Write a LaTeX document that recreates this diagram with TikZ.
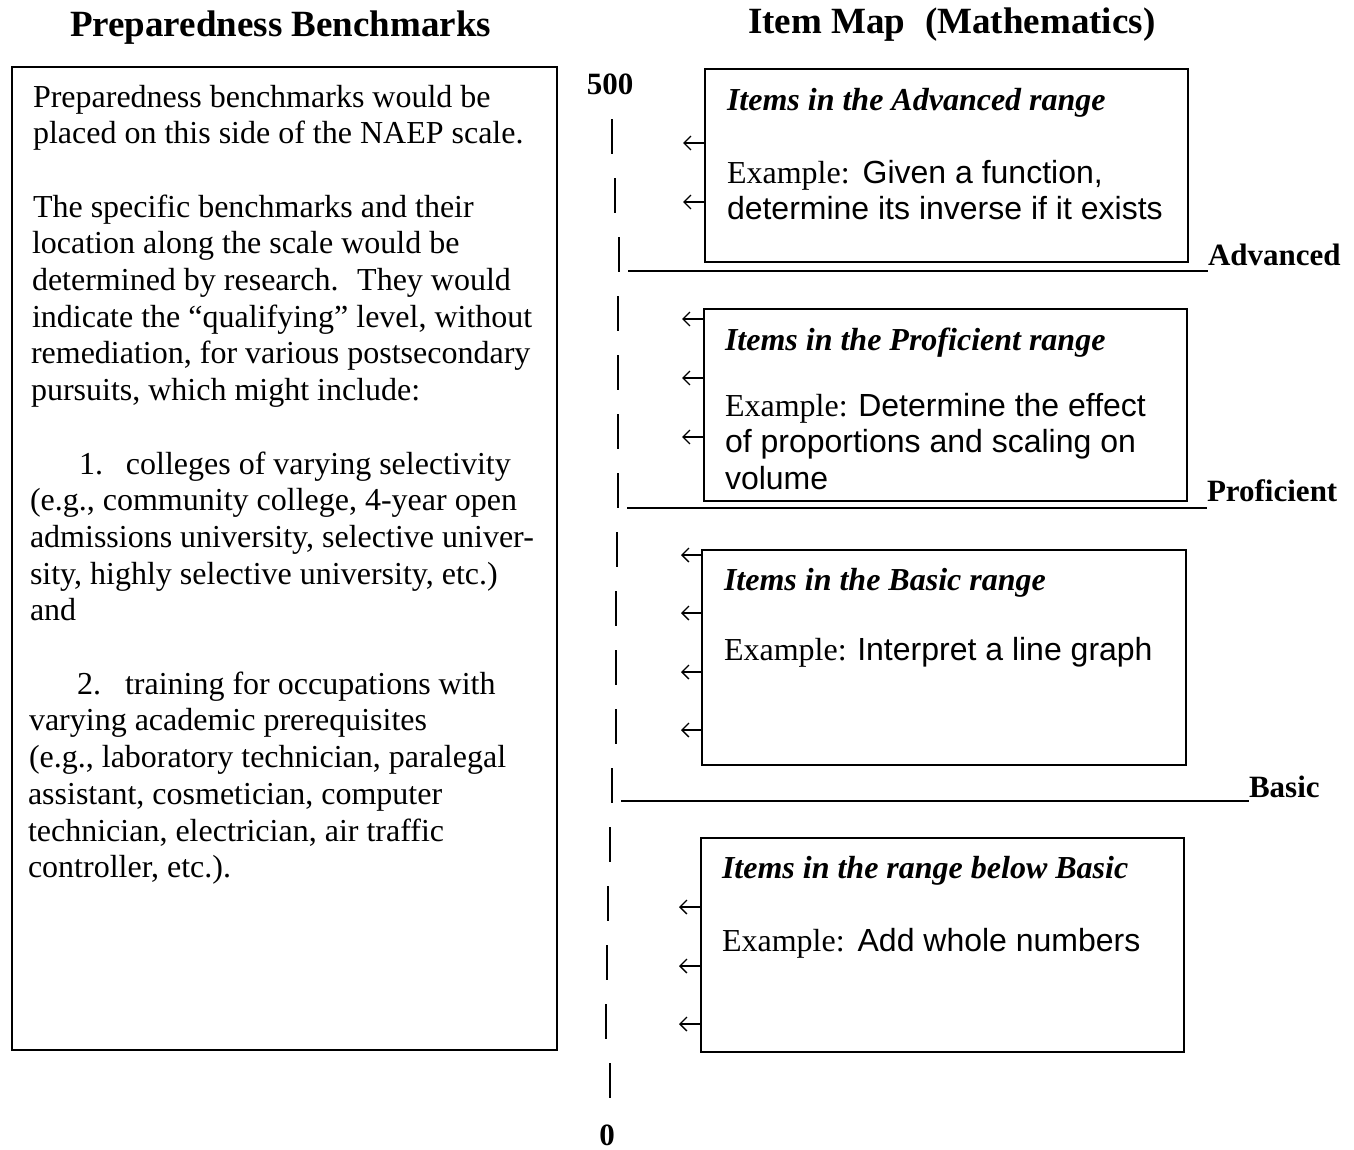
\documentclass[tikz,border=0pt]{standalone}
\usepackage{fontspec}
\setmainfont{Liberation Serif}
\newfontfamily\arialf{Liberation Sans}
\usetikzlibrary{arrows.meta}
\begin{document}
\begin{tikzpicture}[x=1pt,y=-1pt,
  every node/.style={inner sep=0pt, outer sep=0pt},
  ttl/.style={anchor=base west, font=\fontsize{37}{40}\selectfont\bfseries},
  ltxt/.style={anchor=base west, font=\fontsize{32}{36}\selectfont},
  btitle/.style={anchor=base west, font=\fontsize{32}{36}\selectfont\bfseries\itshape},
  lvl/.style={anchor=base west, font=\fontsize{31}{35}\selectfont\bfseries},
  ibox/.style={draw, line width=1.4pt, anchor=north west},
  levelline/.style={line width=2.4pt},
  itemarrow/.style={line width=1.3pt, -{Straight Barb[length=7pt,width=14pt,line width=1.3pt]}},
  axisdash/.style={line width=1.5pt}
]
\useasboundingbox (0,0) rectangle (1354,1149);
\fill[white] (0,0) rectangle (1354,1149);

% titles
\node[ttl] (t1) at (70,36) {Preparedness Benchmarks};
\node[ttl] (t2) at (748,33) {Item Map\hspace{20pt}(Mathematics)};

% left box
\node[ibox, minimum width=545pt, minimum height=983pt] (lbox) at (12,67) {};
\node[ltxt] (p1) at (33,107.0) {Preparedness benchmarks would be};
\node[ltxt] (p2) at (33,143.7) {placed on this side of the NAEP scale.};
\node[ltxt] (p4) at (33,217.1) {The specific benchmarks and their};
\node[ltxt] (p5) at (32,253.8) {location along the scale would be};
\node[ltxt] (p6) at (32,290.5) {determined by research.\hspace{8pt} They would};
\node[ltxt] (p7) at (32,327.2) {indicate the “qualifying” level, without};
\node[ltxt] (p8) at (31,363.9) {remediation, for various postsecondary};
\node[ltxt] (p9) at (31,400.6) {pursuits, which might include:};
\node[ltxt] (p11) at (79,474.0) {\makebox[47pt][l]{1.}colleges of varying selectivity};
\node[ltxt] (p12) at (30,510.7) {(e.g., community college, 4-year open};
\node[ltxt] (p13) at (30,547.4) {admissions university, selective univer-};
\node[ltxt] (p14) at (30,584.1) {sity, highly selective university, etc.)};
\node[ltxt] (p15) at (30,620.8) {and};
\node[ltxt] (p17) at (77,694.2) {\makebox[48pt][l]{2.}training for occupations with};
\node[ltxt] (p18) at (29,730.9) {varying academic prerequisites};
\node[ltxt] (p19) at (29,767.6) {(e.g., laboratory technician, paralegal};
\node[ltxt] (p20) at (28,804.3) {assistant, cosmetician, computer};
\node[ltxt] (p21) at (28,841.0) {technician, electrician, air traffic};
\node[ltxt] (p22) at (28,877.7) {controller, etc.).};

% scale
\node[lvl, anchor=base] (s500) at (610,94) {500};
\node[lvl, anchor=base] (s0) at (607,1145) {0};
\foreach \k/\xx in {0/612,1/615,2/619,3/618,4/618,5/618,6/618,7/617,8/616,9/616,10/616,11/612,12/610,13/608,14/607,15/606,16/610}
  \draw[axisdash] (\xx,119+59*\k) -- (\xx,154+59*\k);

% level labels and lines
\node[lvl] (advlab) at (1208,265) {Advanced};
\node[lvl] (proflab) at (1207,501) {Proficient};
\node[lvl] (baslab) at (1249,797) {Basic};
\coordinate (advL) at (628,271);
\coordinate (profL) at (627,508);
\coordinate (basL) at (621,801);
\draw[levelline] (advL) -- (advL -| advlab.west);
\draw[levelline] (profL) -- (profL -| proflab.west);
\draw[levelline] (basL) -- (basL -| baslab.west);

% item boxes
\node[ibox, minimum width=483pt, minimum height=193pt] (advbox) at (705,69) {};
\node[ibox, minimum width=483pt, minimum height=192pt] (profbox) at (704,309) {};
\node[ibox, minimum width=484pt, minimum height=215pt] (basbox) at (702,550) {};
\node[ibox, minimum width=483pt, minimum height=214pt] (belbox) at (701,838) {};

% advanced text
\node[btitle] (advt) at (727,110) {Items in the Advanced range};
\node[ltxt] (adve1) at (727,183) {Example:\hspace{13pt}{\arialf Given a function,}};
\node[ltxt] (adve2) at (727,219) {\arialf determine its inverse if it exists};
% proficient text
\node[btitle] (proft) at (725,350) {Items in the Proficient range};
\node[ltxt] (profe1) at (725,416) {Example: {\arialf Determine the effect}};
\node[ltxt] (profe2) at (725,452) {\arialf of proportions and scaling on};
\node[ltxt] (profe3) at (725,489) {\arialf volume};
% basic text
\node[btitle] (bast) at (724,590) {Items in the Basic range};
\node[ltxt] (base1) at (724,660) {Example: {\arialf Interpret a line graph}};
% below basic text
\node[btitle] (belt) at (722,878) {Items in the range below Basic};
\node[ltxt] (bele1) at (722,951) {Example:\hspace{13pt}{\arialf Add whole numbers}};

% arrows
\coordinate (a1) at (683,143);
\coordinate (a2) at (683,202);
\draw[itemarrow] (advbox.west |- a1) -- (a1);
\draw[itemarrow] (advbox.west |- a2) -- (a2);
\coordinate (b1) at (682,319);
\coordinate (b2) at (682,378);
\coordinate (b3) at (682,437);
\draw[itemarrow] (profbox.west |- b1) -- (b1);
\draw[itemarrow] (profbox.west |- b2) -- (b2);
\draw[itemarrow] (profbox.west |- b3) -- (b3);
\coordinate (c1) at (681,555);
\coordinate (c2) at (681,613);
\coordinate (c3) at (681,672);
\coordinate (c4) at (681,730);
\draw[itemarrow] (basbox.west |- c1) -- (c1);
\draw[itemarrow] (basbox.west |- c2) -- (c2);
\draw[itemarrow] (basbox.west |- c3) -- (c3);
\draw[itemarrow] (basbox.west |- c4) -- (c4);
\coordinate (d1) at (679,907);
\coordinate (d2) at (679,966);
\coordinate (d3) at (679,1024);
\draw[itemarrow] (belbox.west |- d1) -- (d1);
\draw[itemarrow] (belbox.west |- d2) -- (d2);
\draw[itemarrow] (belbox.west |- d3) -- (d3);
\end{tikzpicture}
\end{document}
